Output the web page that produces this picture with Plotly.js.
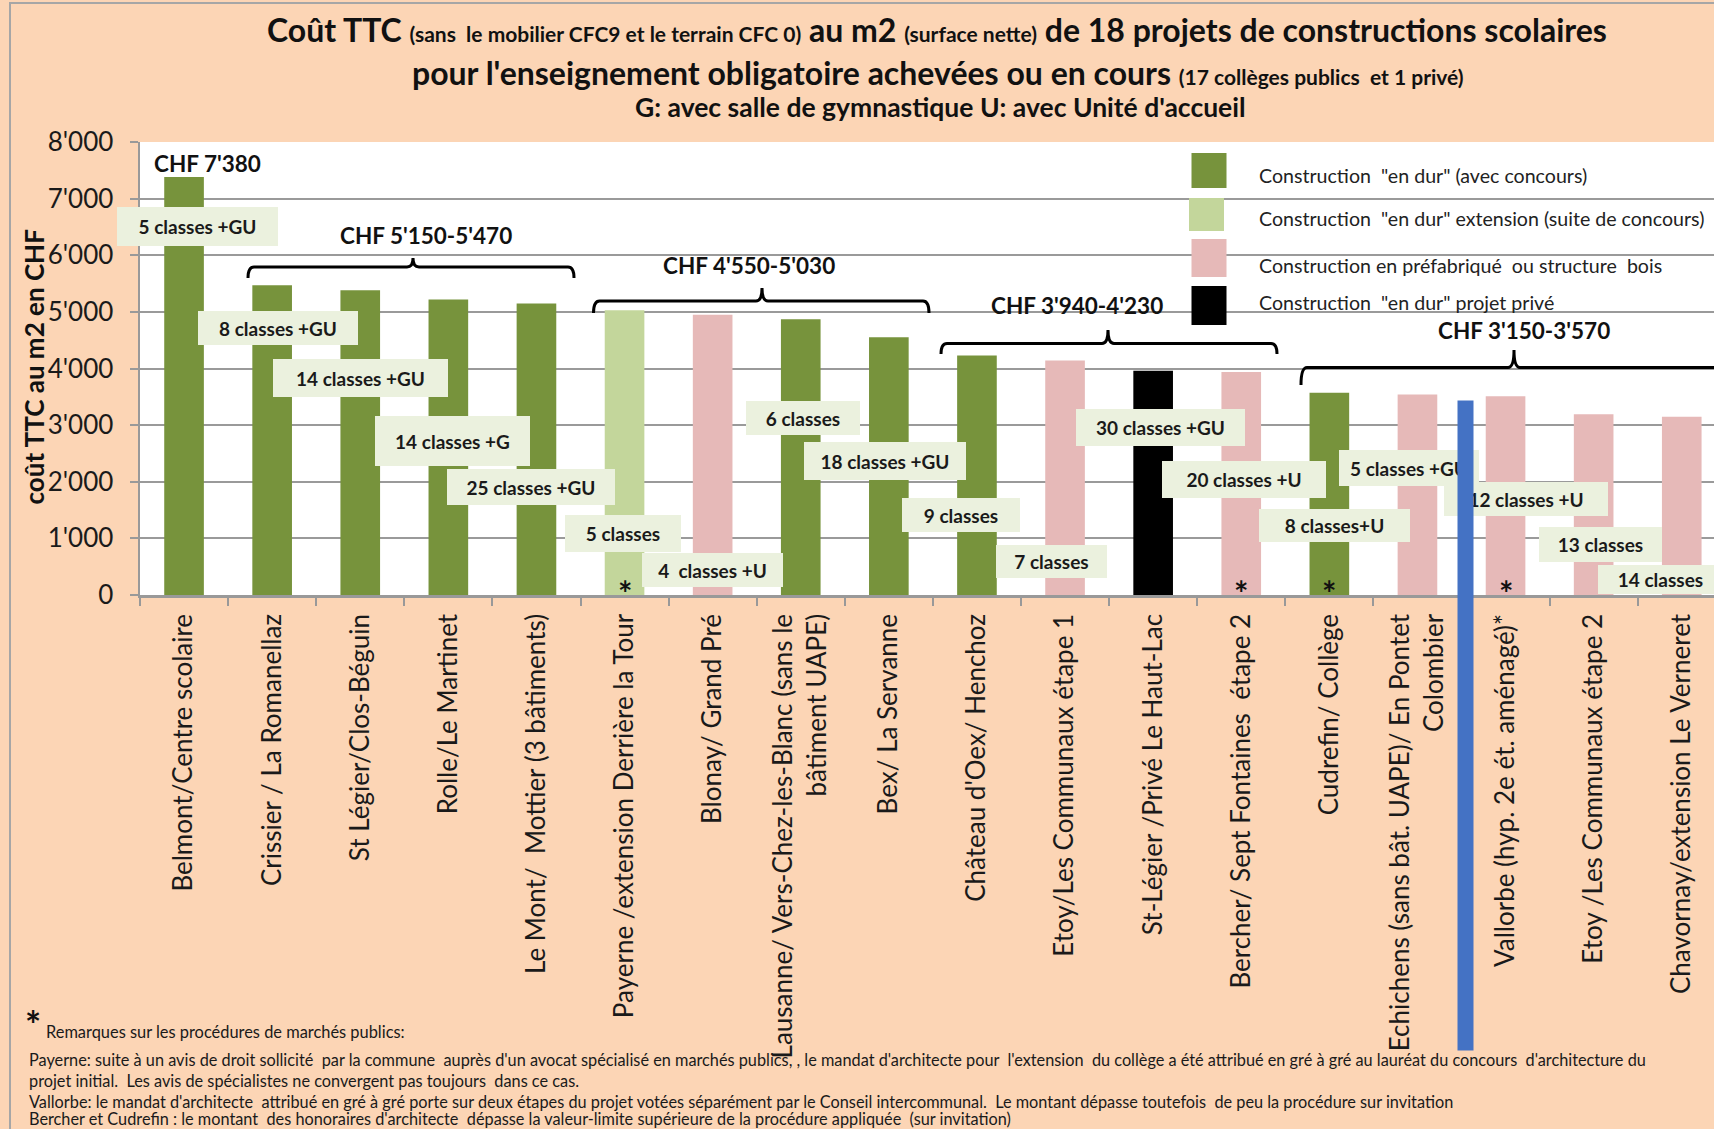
<!DOCTYPE html>
<html>
<head>
<meta charset="utf-8">
<script src="https://cdn.plot.ly/plotly-3.0.1.min.js"></script>
<style>html,body{margin:0;padding:0;background:#FCD5B5;}#chart{width:1714px;height:1129px;}</style>
</head>
<body>
<div id="chart"></div>
<script>
// ---------- DATA ----------
const categories = [
  "Belmont/Centre scolaire",
  "Crissier / La Romanellaz",
  "St Légier/Clos-Béguin",
  "Rolle/Le Martinet",
  "Le Mont/  Mottier (3 bâtiments)",
  "Payerne /extension Derrière la Tour",
  "Blonay/ Grand Pré",
  "Lausanne/ Vers-Chez-les-Blanc (sans le<br>bâtiment UAPE)",
  "Bex/ La Servanne",
  "Château d'Oex/ Henchoz",
  "Etoy/Les Communaux étape 1",
  "St-Légier /Privé Le Haut-Lac",
  "Bercher/ Sept Fontaines  étape 2",
  "Cudrefin/ Collège",
  "Echichens (sans bât. UAPE)/ En Pontet<br>Colombier",
  "Vallorbe (hyp. 2e ét. aménagé)*",
  "Etoy /Les Communaux étape 2",
  "Chavornay/extension Le Verneret"
];
const values = [7380, 5470, 5380, 5220, 5150, 5030, 4950, 4870, 4550, 4230, 4140, 3960, 3940, 3570, 3540, 3510, 3190, 3150];
const types = ["dur","dur","dur","dur","dur","ext","prefab","dur","dur","dur","prefab","prive","prefab","dur","prefab","prefab","prefab","prefab"];
const classLabels = ["5 classes +GU","8 classes +GU","14 classes +GU","14 classes +G","25 classes +GU","5 classes","4  classes +U","6 classes","18 classes +GU","9 classes","7 classes","30 classes +GU","20 classes +U","8 classes+U","5 classes +GU","12 classes +U","13 classes","14 classes"];
const asteriskBars = [5, 12, 13, 15];
const rangeLabels = ["CHF 7'380","CHF 5'150-5'470","CHF 4'550-5'030","CHF 3'940-4'230","CHF 3'150-3'570"];
const typeOrder = ["dur","ext","prefab","prive"];
const legendLabels = ['Construction  "en dur" (avec concours)','Construction  "en dur" extension (suite de concours)','Construction en préfabriqué  ou structure  bois','Construction  "en dur" projet privé'];
const yTickVals = [0,1000,2000,3000,4000,5000,6000,7000,8000];
const yTickText = ["0","1'000","2'000","3'000","4'000","5'000","6'000","7'000","8'000"];
const footnotes = [
  "Payerne: suite à un avis de droit sollicité  par la commune  auprès d'un avocat spécialisé en marchés publics, , le mandat d'architecte pour  l'extension  du collège a été attribué en gré à gré au lauréat du concours  d'architecture du",
  "projet initial.  Les avis de spécialistes ne convergent pas toujours  dans ce cas.",
  "Vallorbe: le mandat d'architecte  attribué en gré à gré porte sur deux étapes du projet votées séparément par le Conseil intercommunal.  Le montant dépasse toutefois  de peu la procédure sur invitation",
  "Bercher et Cudrefin : le montant  des honoraires d'architecte  dépasse la valeur-limite supérieure de la procédure appliquée  (sur invitation)"
];

// ---------- STYLE / LAYOUT ----------
const colors = {dur:"#77933C", ext:"#C3D69B", prefab:"#E6B9B8", prive:"#000000"};
const FONT = "Lato, 'Open Sans', sans-serif";
const TXT = "#1a1a1a";
const L = 140, T = 142, W = 1574, H = 453;
const CAT = 88.1;
const px = x => (x - L) / W;
const py = y => (T + H - y) / H;

const traces = typeOrder.map(t => {
  const idx = values.map((v, i) => i).filter(i => types[i] === t);
  return {
    type: "bar",
    x: idx,
    y: idx.map(i => values[i]),
    width: 0.45,
    marker: {color: colors[t], line: {width: 0}},
    showlegend: false,
    hoverinfo: "y"
  };
});

const annotations = [];
const shapes = [];

// frame (outline only)
shapes.push({type:"rect", xref:"paper", yref:"paper", layer:"below",
  x0: px(10), x1: px(1740), y0: py(1160), y1: py(3),
  fillcolor:"rgba(0,0,0,0)", line:{color:"#A6A6A6", width:2}});

// Titles
const small = (s, sz) => `<span style="font-size:${sz}px">${s}</span>`;
annotations.push({xref:"paper", yref:"paper", x: px(937), y: py(29.5), xanchor:"center", yanchor:"middle", showarrow:false,
  text: "Coût TTC " + small("(sans  le mobilier CFC9 et le terrain CFC 0)", 21) + " au m2 " + small("(surface nette)", 21) + " de 18 projets de constructions scolaires",
  font:{family:FONT, size:32, color:"#111", weight:700}});
annotations.push({xref:"paper", yref:"paper", x: px(938.5), y: py(72), xanchor:"center", yanchor:"middle", showarrow:false,
  text: "pour l'enseignement obligatoire achevées ou en cours " + small("(17 collèges publics  et 1 privé)", 21),
  font:{family:FONT, size:32, color:"#111", weight:700}});
annotations.push({xref:"paper", yref:"paper", x: px(940), y: py(107), xanchor:"center", yanchor:"middle", showarrow:false,
  text: "G: avec salle de gymnastique U: avec Unité d'accueil",
  font:{family:FONT, size:26.5, color:"#111", weight:700}});

// y axis title
annotations.push({xref:"paper", yref:"paper", x: px(33), y: py(367.5), xanchor:"center", yanchor:"middle", showarrow:false,
  textangle:-90, text:"coût TTC au m2 en CHF", font:{family:FONT, size:26, color:"#111", weight:700}});

// range labels
const rangePos = [[207,163.5],[426,236],[749,265],[1077,305],[1523.5,330]];
rangeLabels.forEach((t, i) => annotations.push({xref:"paper", yref:"paper", x: px(rangePos[i][0]), y: py(rangePos[i][1]),
  xanchor:"center", yanchor:"middle", showarrow:false, text:t, font:{family:FONT, size:22.5, color:"#111", weight:700}}));

// brackets
const brackets = [[248,574,413,267,278,258],[593.5,929,762,301,313,288],[941,1277,1108,343.5,354,330],[1301,1760,1514,367.5,385,350]];
brackets.forEach(b => {
  const [xl,xr,xc,yh,ye,yt] = b, r = 6;
  const P = (x,y) => `${px(x)},${py(y)}`;
  const d = `M ${P(xl,ye)} Q ${P(xl,yh)} ${P(xl+r,yh)} L ${P(xc-r,yh)} Q ${P(xc,yh)} ${P(xc,yt)} Q ${P(xc,yh)} ${P(xc+r,yh)} L ${P(xr-r,yh)} Q ${P(xr,yh)} ${P(xr,ye)}`;
  shapes.push({type:"path", xref:"paper", yref:"paper", path:d, line:{color:"#000", width:3}, layer:"above"});
});

// class label boxes
const boxes = [[197.5,226.5,161,39],[277.5,328,160,34],[360.7,378,175,38],[452.5,441,155,50],[531,487,168,36],[623,533,116,37],[712.7,569.5,141,34],[803.4,418.3,114,34],[885.4,461,162,38],[960.8,515,118,34],[1051.6,561,111,33],[1160.9,427,169,37],[1244,479,164,37],[1334.7,525,151,33],[1409,467.5,140,36],[1526,499,164,34],[1600.5,544.5,123,35],[1660,579,125,29]];
classLabels.forEach((t, i) => {
  const [cx,cy,w,h] = boxes[i];
  annotations.push({xref:"paper", yref:"paper", x: px(cx), y: py(cy), xanchor:"center", yanchor:"middle", showarrow:false,
    text:t, bgcolor:"#EBF1DE", width:w, height:h, borderpad:0, borderwidth:0,
    font:{family:FONT, size:19, color:TXT, weight:700}});
});

// asterisks at bar bases
asteriskBars.forEach(i => annotations.push({xref:"x", yref:"paper", x: i, y: py(592), xanchor:"center", yanchor:"middle",
  showarrow:false, text:"*", font:{family:FONT, size:34, color:"#111", weight:700}}));

// legend
const sq = [[1191.5,153,1226.5,188],[1189,198,1224,231],[1191.5,239,1226.5,277],[1191.5,286,1226.5,325]];
const legY = [175,218,265,302];
typeOrder.forEach((t, i) => {
  shapes.push({type:"rect", xref:"paper", yref:"paper", x0:px(sq[i][0]), x1:px(sq[i][2]), y0:py(sq[i][3]), y1:py(sq[i][1]),
    fillcolor: colors[t], line:{width:0}, layer:"above"});
  annotations.push({xref:"paper", yref:"paper", x: px(1257), y: py(legY[i]), xanchor:"left", yanchor:"middle", showarrow:false,
    text: legendLabels[i], font:{family:FONT, size:19.6, color:"#222"}});
});

// footnotes
annotations.push({xref:"paper", yref:"paper", x: px(33), y: py(1024), xanchor:"center", yanchor:"middle", showarrow:false,
  text:"*", font:{family:FONT, size:38, color:"#111", weight:700}});
annotations.push({xref:"paper", yref:"paper", x: px(44), y: py(1031), xanchor:"left", yanchor:"middle", showarrow:false,
  text:"Remarques sur les procédures de marchés publics:", font:{family:FONT, size:16.4, color:TXT}});
const fnY = [1059,1080.5,1101,1118];
footnotes.forEach((t, i) => annotations.push({xref:"paper", yref:"paper", x: px(27), y: py(fnY[i]), xanchor:"left", yanchor:"middle",
  showarrow:false, text:t, font:{family:FONT, size:16.3, color:TXT}}));

// blue vertical line (drawn on top)
annotations.push({xref:"paper", yref:"paper", x: px(1465), y: py(400), xanchor:"center", yanchor:"top", showarrow:false,
  text:"&nbsp;", bgcolor:"#4472C4", width:15, height:649, borderpad:0, font:{size:10}});

const boundaries = [];
for (let i = 0; i <= categories.length; i++) boundaries.push(i - 0.5);

const layout = {
  width: 1714, height: 1129,
  margin: {l: L, r: 0, t: T, b: 1129 - T - H, pad: 0},
  paper_bgcolor: "#FCD5B5",
  plot_bgcolor: "#FFFFFF",
  barmode: "overlay",
  font: {family: FONT, color: TXT},
  xaxis: {
    range: [-0.5, -0.5 + W / CAT],
    tickmode: "array", tickvals: categories.map((c, i) => i), ticktext: categories,
    tickangle: -90, ticks: "", showgrid: false, zeroline: false,
    showline: true, linecolor: "#999", linewidth: 2.5,
    tickfont: {family: FONT, size: 26, color: TXT},
    ticklabelstandoff: 6,
    minor: {tickmode: "array", tickvals: boundaries, ticks: "outside", ticklen: 8, tickcolor: "#999", tickwidth: 2, showgrid: false},
    fixedrange: true
  },
  yaxis: {
    range: [0, 8000],
    tickmode: "array", tickvals: yTickVals, ticktext: yTickText,
    ticks: "outside", ticklen: 8, tickcolor: "#999", tickwidth: 2,
    showgrid: true, gridcolor: "#9A9A9A", gridwidth: 2,
    showline: true, linecolor: "#999", linewidth: 2.5, zeroline: false,
    tickfont: {family: FONT, size: 26, color: TXT},
    ticklabelstandoff: 11,
    fixedrange: true
  },
  shapes: shapes,
  annotations: annotations,
  showlegend: false
};

Plotly.newPlot("chart", traces, layout, {displayModeBar: false, staticPlot: true});
</script>
</body>
</html>
